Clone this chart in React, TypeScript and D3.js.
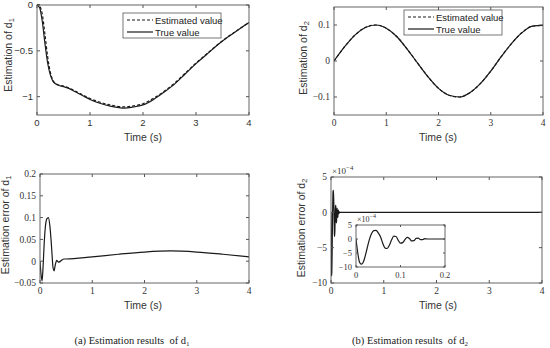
import React from 'react';
import * as d3 from 'd3';

// top-left: d1 estimate vs true value
const t1True = [0, 0.05, 0.1, 0.15, 0.2, 0.25, 0.3, 0.35, 0.4, 0.5, 0.6, 0.7, 0.8, 0.9, 1.0, 1.2, 1.4, 1.65, 1.8, 2.0, 2.2, 2.4, 2.6, 2.8, 3.0, 3.2, 3.4, 3.6, 3.8, 4.0];
const d1True = [0, -0.03, -0.18, -0.42, -0.63, -0.76, -0.83, -0.86, -0.875, -0.89, -0.91, -0.94, -0.97, -1.0, -1.03, -1.075, -1.105, -1.125, -1.115, -1.09, -1.03, -0.95, -0.86, -0.75, -0.64, -0.54, -0.44, -0.35, -0.27, -0.19];
const t1Est = [0, 0.03, 0.06, 0.1, 0.15, 0.2, 0.25, 0.3, 0.35, 0.4, 0.5, 0.6, 0.7, 0.8, 0.9, 1.0, 1.2, 1.4, 1.65, 1.8, 2.0, 2.2, 2.4, 2.6, 2.8, 3.0, 3.2, 3.4, 3.6, 3.8, 4.0];
const d1Est = [0, 0.01, -0.02, -0.1, -0.32, -0.56, -0.73, -0.82, -0.855, -0.87, -0.885, -0.905, -0.932, -0.962, -0.992, -1.02, -1.063, -1.093, -1.112, -1.103, -1.077, -1.018, -0.94, -0.85, -0.742, -0.633, -0.535, -0.436, -0.347, -0.268, -0.19];

// top-right: d2
const t2 = [0, 0.2, 0.4, 0.6, 0.8, 1.0, 1.2, 1.4, 1.6, 1.8, 2.0, 2.2, 2.4, 2.6, 2.8, 3.0, 3.2, 3.4, 3.6, 3.8, 4.0];
const d2True = [0, 0.039, 0.072, 0.093, 0.1, 0.091, 0.068, 0.033, -0.006, -0.044, -0.076, -0.095, -0.1, -0.088, -0.063, -0.028, 0.012, 0.049, 0.079, 0.097, 0.099];
const d2Est = [0, 0.039, 0.072, 0.093, 0.1, 0.091, 0.068, 0.033, -0.006, -0.044, -0.076, -0.095, -0.1, -0.088, -0.063, -0.028, 0.012, 0.049, 0.079, 0.097, 0.099];

// bottom-left: error of d1
const t3 = [0, 0.02, 0.04, 0.06, 0.08, 0.1, 0.13, 0.16, 0.19, 0.22, 0.25, 0.27, 0.29, 0.32, 0.35, 0.38, 0.42, 0.46, 0.5, 1.0, 1.5, 2.0, 2.5, 3.0, 3.5, 4.0];
const e1 = [0, -0.03, -0.045, -0.01, 0.04, 0.075, 0.097, 0.1, 0.08, 0.035, -0.015, -0.022, -0.01, 0.002, -0.002, -0.001, 0.003, 0.005, 0.005, 0.01, 0.016, 0.021, 0.0235, 0.021, 0.016, 0.01];

// bottom-right: error of d2 (x1e-4)
const t4 = [0, 0.004, 0.008, 0.012, 0.016, 0.02, 0.025, 0.03, 0.035, 0.04, 0.045, 0.05, 0.055, 0.06, 0.065, 0.07, 0.075, 0.08, 0.085, 0.09, 0.095, 0.1, 0.105, 0.11, 0.115, 0.12, 0.125, 0.13, 0.135, 0.14, 0.145, 0.15, 0.155, 0.16, 0.2, 4];
const e2 = [0, -5, -8.3, -9, -8.4, -6.5, -3.3, -0.2, 2.0, 3.0, 3.1, 2.2, 0.8, -1.5, -3.2, -3.4, -2.2, -0.3, 1.0, 0.9, -0.5, -1.5, -1.3, -0.2, 0.6, 0.2, -0.7, -0.6, 0.2, 0.3, -0.2, -0.2, 0.1, 0, 0, 0];

const xTicks = [0, 1, 2, 3, 4];
const yTicks1 = [-1, -0.5, 0];
const yTicks2 = [-0.1, 0, 0.1];
const yTicks3 = [-0.05, 0, 0.05, 0.1, 0.15, 0.2];
const yTicks4 = [-10, -5, 0, 5];
const insetXTicks = [0, 0.1, 0.2];

const SANS = 'Liberation Sans, Arial, sans-serif';
const SERIF = 'Liberation Serif, Times New Roman, serif';
const fmt = (v: number) => (v < 0 ? '\u2212' + String(-v) : String(v));

type Series = { t: number[]; v: number[]; dash?: string };

function Panel(p: {
  id: string;
  x0: number; x1: number; y0: number; y1: number;
  xDom: [number, number]; yDom: [number, number];
  xt: number[]; yt: number[]; tickFont: string; fs?: number;
  series: Series[]; tick?: number;
}) {
  const x = d3.scaleLinear().domain(p.xDom).range([p.x0, p.x1]);
  const y = d3.scaleLinear().domain(p.yDom).range([p.y1, p.y0]);
  const tl = p.tick ?? 3;
  const fs = p.fs ?? 9.5;
  return (
    <g>
      <defs>
        <clipPath id={p.id}>
          <rect x={p.x0} y={p.y0 - 1} width={p.x1 - p.x0} height={p.y1 - p.y0 + 2} />
        </clipPath>
      </defs>
      <rect x={p.x0} y={p.y0} width={p.x1 - p.x0} height={p.y1 - p.y0} fill="#fff" />
      <g clipPath={`url(#${p.id})`}>
        {p.series.map((s, i) => {
          const line = d3.line<number>().x((_, j) => x(s.t[j])).y(d => y(d)).curve(d3.curveMonotoneX);
          return <path key={i} d={line(s.v) || ''} fill="none" stroke="#1a1a1a" strokeWidth={1.2} strokeDasharray={s.dash} />;
        })}
      </g>
      <rect x={p.x0} y={p.y0} width={p.x1 - p.x0} height={p.y1 - p.y0} fill="none" stroke="#555" strokeWidth={0.9} />
      {p.xt.map(v => (
        <g key={'x' + v}>
          <line x1={x(v)} x2={x(v)} y1={p.y1} y2={p.y1 - tl} stroke="#555" />
          <line x1={x(v)} x2={x(v)} y1={p.y0} y2={p.y0 + tl} stroke="#555" />
          <text x={x(v)} y={p.y1 + 11} textAnchor="middle" fontFamily={p.tickFont} fontSize={fs} fill="#333">{fmt(v)}</text>
        </g>
      ))}
      {p.yt.map(v => (
        <g key={'y' + v}>
          <line x1={p.x0} x2={p.x0 + tl} y1={y(v)} y2={y(v)} stroke="#555" />
          <line x1={p.x1} x2={p.x1 - tl} y1={y(v)} y2={y(v)} stroke="#555" />
          <text x={p.x0 - 4} y={y(v) + 3.3} textAnchor="end" fontFamily={p.tickFont} fontSize={fs} fill="#333">{fmt(v)}</text>
        </g>
      ))}
    </g>
  );
}

function YLabel({ x, y, text, sub }: { x: number; y: number; text: string; sub: string }) {
  return (
    <text transform={`translate(${x},${y}) rotate(-90)`} textAnchor="middle" fontFamily={SANS} fontSize={10.5} fill="#333">
      {text}<tspan fontSize={7.5} dy={2}>{sub}</tspan>
    </text>
  );
}

function Legend({ x, y }: { x: number; y: number }) {
  return (
    <g>
      <rect x={x} y={y} width={98} height={25} fill="#fff" stroke="#555" strokeWidth={0.8} />
      <line x1={x + 4} x2={x + 30} y1={y + 7} y2={y + 7} stroke="#1a1a1a" strokeWidth={1.2} strokeDasharray="3,2" />
      <text x={x + 32} y={y + 10.5} fontFamily={SANS} fontSize={9.5} fill="#222">Estimated value</text>
      <line x1={x + 4} x2={x + 30} y1={y + 19} y2={y + 19} stroke="#1a1a1a" strokeWidth={1.2} />
      <text x={x + 32} y={y + 22.5} fontFamily={SANS} fontSize={9.5} fill="#222">True value</text>
    </g>
  );
}

function Times10({ x, y, fs }: { x: number; y: number; fs: number }) {
  return (
    <text x={x} y={y} fontFamily={SERIF} fontSize={fs} fill="#333">
      ×10<tspan fontSize={fs * 0.75} dy={-4}>−4</tspan>
    </text>
  );
}

export default function App() {
  return (
    <svg width={550} height={348} style={{ position: 'absolute', left: 0, top: 0, background: '#fff' }}>
      <Panel id="c1" x0={37} x1={249} y0={5} y1={115} xDom={[0, 4]} yDom={[-1.2, 0]} xt={xTicks} yt={yTicks1} tickFont={SANS}
        series={[{ t: t1Est, v: d1Est, dash: '3,2' }, { t: t1True, v: d1True }]} />
      <Legend x={123} y={13} />
      <YLabel x={12} y={55} text="Estimation of d" sub="1" />
      <text x={143} y={141} textAnchor="middle" fontFamily={SANS} fontSize={10.5} fill="#333">Time (s)</text>

      <Panel id="c2" x0={334} x1={543} y0={7} y1={115} xDom={[0, 4]} yDom={[-0.15, 0.15]} xt={xTicks} yt={yTicks2} tickFont={SERIF}
        series={[{ t: t2, v: d2Est, dash: '3,2' }, { t: t2, v: d2True }]} />
      <Legend x={404} y={10} />
      <YLabel x={307} y={58} text="Estimation of d" sub="2" />
      <text x={438} y={141} textAnchor="middle" fontFamily={SANS} fontSize={10.5} fill="#333">Time (s)</text>

      <Panel id="c3" x0={40} x1={249} y0={174} y1={283} xDom={[0, 4]} yDom={[-0.05, 0.2]} xt={xTicks} yt={yTicks3} tickFont={SERIF}
        series={[{ t: t3, v: e1 }]} />
      <YLabel x={9} y={225} text="Estimation error of d" sub="1" />
      <text x={143} y={309} textAnchor="middle" fontFamily={SANS} fontSize={10.5} fill="#333">Time (s)</text>

      <Panel id="c4" x0={331} x1={542} y0={177} y1={283} xDom={[0, 4]} yDom={[-10, 5]} xt={xTicks} yt={yTicks4} tickFont={SERIF}
        series={[{ t: t4, v: e2 }]} />
      <Times10 x={332} y={174} fs={9} />
      <YLabel x={305} y={228} text="Estimation error of d" sub="2" />
      <text x={438} y={309} textAnchor="middle" fontFamily={SANS} fontSize={10.5} fill="#333">Time (s)</text>

      <Panel id="c5" x0={356} x1={445} y0={225} y1={267} xDom={[0, 0.2]} yDom={[-10, 5]} xt={insetXTicks} yt={yTicks4} tickFont={SERIF}
        fs={8.5} tick={2} series={[{ t: t4, v: e2 }]} />
      <Times10 x={357} y={222} fs={8} />

      <text x={132} y={344} textAnchor="middle" fontFamily={SERIF} fontSize={10.5} fill="#222">
        (a) Estimation results{'\u00a0\u00a0'}of d<tspan fontSize={7} dy={2}>1</tspan>
      </text>
      <text x={410} y={344} textAnchor="middle" fontFamily={SERIF} fontSize={10.5} fill="#222">
        (b) Estimation results{'\u00a0\u00a0'}of d<tspan fontSize={7} dy={2}>2</tspan>
      </text>
    </svg>
  );
}
